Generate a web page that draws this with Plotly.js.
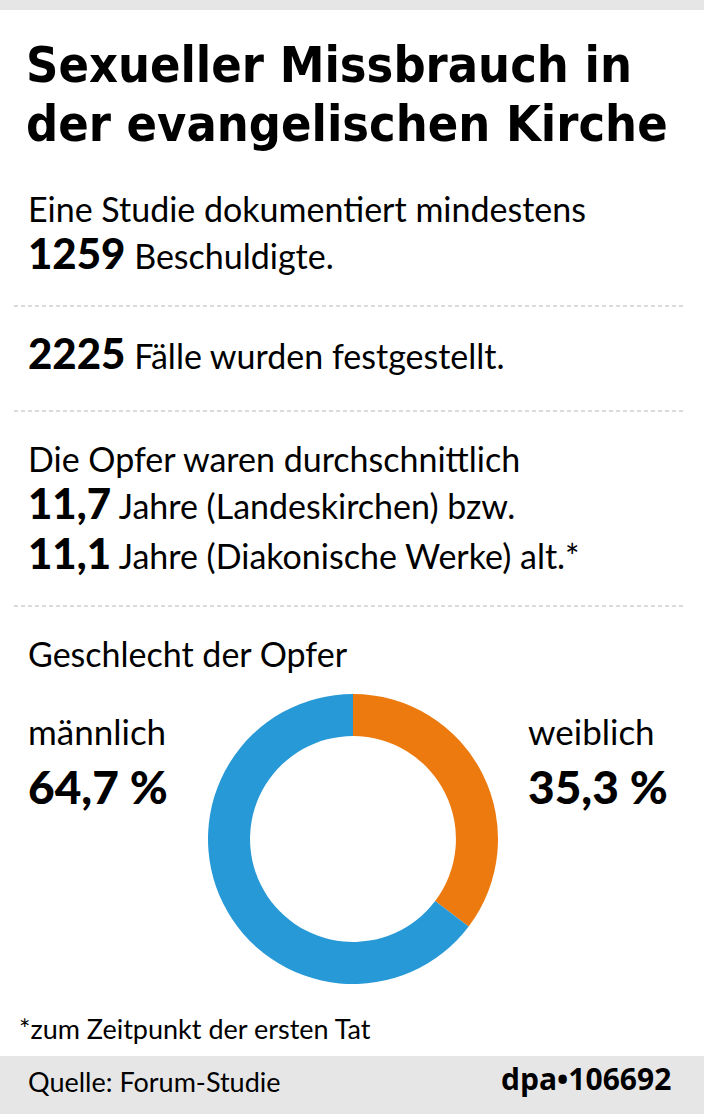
<!DOCTYPE html>
<html>
<head>
<meta charset="utf-8">
<script src="https://cdn.plot.ly/plotly-3.0.1.min.js"></script>
<style>
html,body{margin:0;padding:0;background:#fff;}
#chart{width:704px;height:1114px;}
</style>
</head>
<body>
<div id="chart"></div>
<script>
// ---- data ----
const genderLabels = ['weiblich', 'männlich'];
const genderValues = [35.3, 64.7];
const genderColors = ['#ec7a0f', '#2799d6'];
const genderText = ['35,3 %', '64,7 %'];

const titleLines = ['Sexueller Missbrauch in', 'der evangelischen Kirche'];
const accusedCount = '1259';
const caseCount = '2225';
const avgAges = ['11,7', '11,1'];
const ageGroups = ['Jahre (Landeskirchen) bzw.', 'Jahre (Diakonische Werke) alt.*'];
const footnote = '*zum Zeitpunkt der ersten Tat';
const source = 'Quelle: Forum-Studie';
const credit = 'dpa\u2022106692';

// ---- layout helpers ----
const W = 704, H = 1114;
const FONT = 'Lato, "Open Sans", sans-serif';
const TFONT = '"DejaVu Sans Condensed", "Open Sans", sans-serif';
const CFONT = '"Open Sans", sans-serif';
function py(px){ return 1 - px / H; }
function px2x(px){ return px / W; }
const annotations = [];
function addText(text, x, baseline, size, opts){
  opts = opts || {};
  annotations.push({
    xref:'paper', yref:'paper',
    x: px2x(x), y: py(baseline + size*0.22),
    xanchor: opts.anchor || 'left', yanchor:'bottom',
    text: text, showarrow:false, align: opts.anchor==='right' ? 'right':'left',
    font: {family: opts.family || FONT, size: size, color:'#000', weight: opts.weight || 400},
    borderpad:0
  });
}
function big(t, s){ return '<span style="font-size:' + s + 'px;font-weight:900">' + t + '</span>'; }

const REG = 34, NUM = 42;
addText('<b>' + titleLines[0] + '</b>', 25, 84, 50, {family: TFONT});
addText('<b>' + titleLines[1] + '</b>', 25, 143, 50, {family: TFONT});
addText('Eine Studie dokumentiert mindestens', 27, 223, REG);
addText(big(accusedCount, NUM) + ' Beschuldigte.', 27, 272, REG);
addText(big(caseCount, NUM) + ' Fälle wurden festgestellt.', 27, 372, REG);
addText('Die Opfer waren durchschnittlich', 27, 473, REG);
addText(big(avgAges[0], NUM) + ' ' + ageGroups[0], 27, 522, REG);
addText(big(avgAges[1], NUM) + ' ' + ageGroups[1], 27, 572, REG);
addText('Geschlecht der Opfer', 27, 668, REG);
addText(genderLabels[1], 27, 745, 35);
addText(big(genderText[1], 46), 27, 805, 46);
addText(genderLabels[0], 527, 745, 35);
addText(big(genderText[0], 46), 527, 805, 46);
addText(footnote, 18, 1040, 27);
addText(source, 27, 1093, 27);
addText('<b>' + credit + '</b>', 672, 1093, 30, {anchor:'right', family: CFONT});

const shapes = [
  {type:'rect', xref:'paper', yref:'paper', x0:0, x1:1, y0:py(10), y1:1, fillcolor:'#e6e6e6', line:{width:0}, layer:'below'},
  {type:'rect', xref:'paper', yref:'paper', x0:0, x1:1, y0:0, y1:py(1056), fillcolor:'#e6e6e6', line:{width:0}, layer:'below'}
];
[306, 411, 606].forEach(function(y){
  shapes.push({type:'line', xref:'paper', yref:'paper', x0:px2x(14), x1:px2x(686), y0:py(y), y1:py(y),
    line:{color:'#cfcfcf', width:1.5, dash:'4px,3px'}});
});

const trace = {
  type:'pie',
  labels: genderLabels,
  values: genderValues,
  marker:{colors: genderColors, line:{width:0}},
  hole: 0.71,
  sort:false,
  direction:'clockwise',
  rotation:0,
  textinfo:'none',
  hoverinfo:'none',
  showlegend:false,
  domain:{x:[px2x(208), px2x(498)], y:[py(984), py(694)]}
};

const layout = {
  width: W, height: H,
  margin:{l:0, r:0, t:0, b:0},
  paper_bgcolor:'#ffffff',
  showlegend:false,
  annotations: annotations,
  shapes: shapes
};

Plotly.newPlot('chart', [trace], layout, {staticPlot:true, displayModeBar:false});
</script>
</body>
</html>
